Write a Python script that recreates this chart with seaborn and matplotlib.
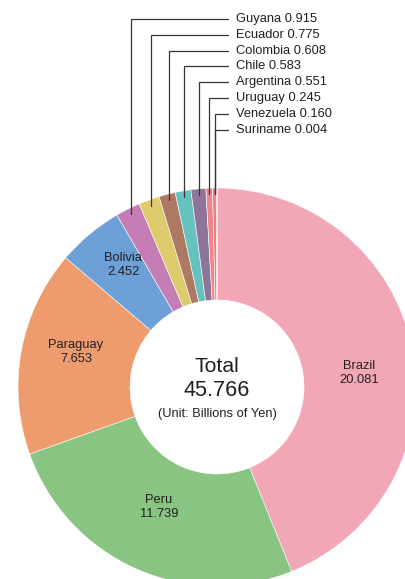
import numpy as np
import matplotlib
matplotlib.use("Agg")
import matplotlib.pyplot as plt
import seaborn as sns

# ---- data ----
countries = ["Brazil", "Peru", "Paraguay", "Bolivia", "Guyana", "Ecuador",
             "Colombia", "Chile", "Argentina", "Uruguay", "Venezuela", "Suriname"]
values = [20.081, 11.739, 7.653, 2.452, 0.915, 0.775,
          0.608, 0.583, 0.551, 0.245, 0.160, 0.004]
value_labels = ["20.081", "11.739", "7.653", "2.452", "0.915", "0.775",
                "0.608", "0.583", "0.551", "0.245", "0.160", "0.004"]
total_label = "45.766"
unit_label = "(Unit: Billions of Yen)"

# ---- style ----
colors = ["#F2A7B7", "#89C482", "#EE9B6E", "#6CA0D7", "#C47DB5", "#DDCB6E",
          "#AD7962", "#66C2BE", "#8E7499", "#EE8589", "#EB7F86", "#E8868C"]
text_color = "#231F20"
line_color = "#3a3435"

sns.set_theme(style="white")
plt.rcParams['font.family'] = ['Liberation Sans', 'DejaVu Sans']

W, H = 405, 579
fig = plt.figure(figsize=(W / 100, H / 100), dpi=100)
ax = fig.add_axes([0, 0, 1, 1])

cx, cy_ref = 217, 387
cy = H - cy_ref
R = 199
r_in = 87

wedges, _ = ax.pie(values, colors=colors, startangle=90, counterclock=False,
                   center=(cx, cy), radius=R,
                   wedgeprops=dict(width=R - r_in, edgecolor="white", linewidth=0.4))
ax.set_xlim(0, W)
ax.set_ylim(0, H)
ax.set_aspect("equal")
ax.axis("off")

# center text
ax.text(cx, H - 367, "Total", ha="center", va="center", fontsize=15.2, color=text_color)
ax.text(cx, H - 391, total_label, ha="center", va="center", fontsize=15.6, color=text_color)
ax.text(cx, H - 414, unit_label, ha="center", va="center", fontsize=9.3, color=text_color)

# big slice labels (layout positions in reference pixel coords)
big_pos = {"Brazil": (359, 373), "Peru": (159, 507), "Paraguay": (76, 352), "Bolivia": (123, 265)}
for name, val in zip(countries, value_labels):
    if name in big_pos:
        x, y = big_pos[name]
        ax.text(x, H - y, f"{name}\n{val}", ha="center", va="center", fontsize=9.3,
                color=text_color, linespacing=1.25)

# small slices: leader lines
small = [i for i, n in enumerate(countries) if n not in big_pos]
label_top = 19
label_step = 15.8
text_x = 236
hline_end = 228
r_line = R - 6
for k, i in enumerate(small):
    w = wedges[i]
    mid = np.deg2rad((w.theta1 + w.theta2) / 2)
    x0 = cx + r_line * np.cos(mid)
    y0 = cy + r_line * np.sin(mid)
    ly = H - (label_top + k * label_step)
    if countries[i] == "Suriname":
        x0 = cx + r_line * np.cos(np.deg2rad((wedges[i - 1].theta1 + wedges[i - 1].theta2) / 2))
    ax.plot([x0, x0, hline_end], [y0, ly, ly], color=line_color, lw=0.9,
            solid_joinstyle="miter", zorder=5)
    ax.text(text_x, ly, f"{countries[i]} {value_labels[i]}", ha="left", va="center",
            fontsize=9.3, color=text_color)

fig.savefig("out.png", dpi=100, facecolor="white")
